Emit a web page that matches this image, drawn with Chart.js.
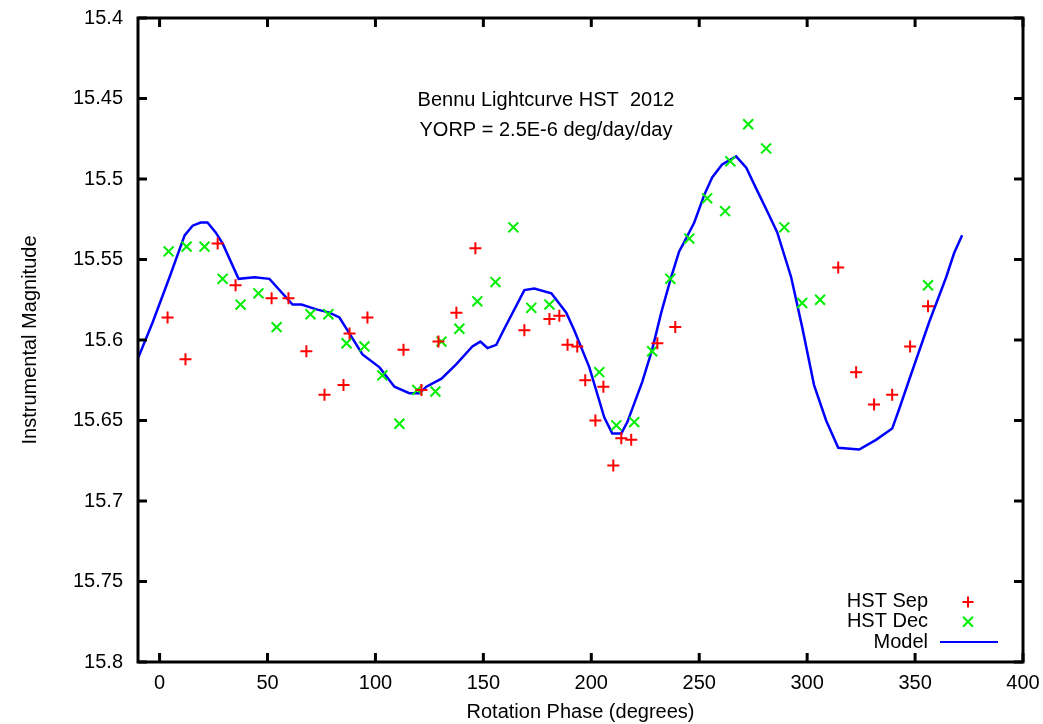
<!DOCTYPE html>
<html>
<head>
<meta charset="utf-8">
<script src="https://cdn.jsdelivr.net/npm/chart.js@4"></script>
<style>
  html, body { margin: 0; padding: 0; background: #fff; }
  #wrap { width: 1043px; height: 724px; }
</style>
</head>
<body>
<div id="wrap"><canvas id="lc"></canvas></div>
<script>
// HST Sep observations (phase deg, magnitude)
const sepPhase = [3.7, 12, 26.9, 35.2, 51.9, 59.7, 68, 76.4, 85.2, 88, 96.3, 113, 121.3, 129.2, 137.5, 146.3,
  169, 180.6, 185.2, 189, 193.5, 197.2, 201.9, 205.6, 210.2, 213.9, 218.5, 230.6, 238.9, 314.4, 322.7, 331, 339.4, 347.7, 356];
const sepMag = [15.586, 15.612, 15.540, 15.566, 15.574, 15.574, 15.607, 15.634, 15.628, 15.596, 15.586, 15.606, 15.631, 15.601, 15.583, 15.543,
  15.594, 15.587, 15.585, 15.603, 15.604, 15.625, 15.650, 15.629, 15.678, 15.661, 15.662, 15.602, 15.592, 15.555, 15.620, 15.640, 15.634, 15.604, 15.579];

// HST Dec observations
const decPhase = [4.2, 12.5, 20.8, 29.2, 37.5, 45.8, 54.2, 69.9, 78.2, 86.6, 94.9, 103.2, 111.1, 119.4, 127.8, 130.6, 138.9, 147.2, 155.6,
  163.9, 172.2, 180.6, 203.7, 211.6, 219.9, 228.2, 236.6, 245.4, 253.7, 262, 264.4, 272.7, 281, 289.4, 297.7, 306, 356];
const decMag = [15.545, 15.542, 15.542, 15.562, 15.578, 15.571, 15.592, 15.584, 15.584, 15.602, 15.604, 15.622, 15.652, 15.631, 15.632, 15.601, 15.593, 15.576, 15.564,
  15.530, 15.580, 15.578, 15.620, 15.653, 15.651, 15.607, 15.562, 15.537, 15.512, 15.520, 15.489, 15.466, 15.481, 15.530, 15.577, 15.575, 15.566];

// model lightcurve
const modelPhase = [-10.2, -3.2, 4.6, 11.6, 15.3, 19, 22.2, 25.9, 29.2, 36.6, 44, 50.9, 61.6, 65.7, 72.7, 78.7, 83.3, 88, 94, 101.9,
  108.8, 115.7, 120.4, 123.6, 130.6, 137.5, 144.9, 148.6, 151.9, 156, 159.7, 169, 173.6, 181.5, 188.4, 192.1, 199.1, 206, 209.7, 213.9,
  216.7, 223.6, 228.2, 232.4, 237, 240.7, 243.1, 247.7, 252.3, 256, 260.6, 267.1, 271.8, 276.4, 281.5, 286.1, 292.6, 297.7, 303.2, 308.8,
  314.4, 324.1, 331.9, 339.4, 342.6, 347.2, 356.5, 364.4, 368.1, 371.8];
const modelMag = [15.612, 15.589, 15.561, 15.535, 15.529, 15.527, 15.527, 15.533, 15.540, 15.562, 15.561, 15.562, 15.578, 15.578, 15.581, 15.583, 15.586, 15.596, 15.609, 15.617,
  15.629, 15.633, 15.633, 15.629, 15.624, 15.615, 15.604, 15.601, 15.605, 15.603, 15.593, 15.569, 15.568, 15.571, 15.583, 15.594, 15.617, 15.648, 15.658, 15.658,
  15.651, 15.626, 15.606, 15.583, 15.561, 15.545, 15.539, 15.527, 15.510, 15.499, 15.491, 15.486, 15.493, 15.506, 15.520, 15.533, 15.561, 15.592, 15.628, 15.650,
  15.667, 15.668, 15.662, 15.655, 15.643, 15.625, 15.589, 15.561, 15.546, 15.535];

const xTicks = [0, 50, 100, 150, 200, 250, 300, 350, 400];
const titleLines = ["Bennu Lightcurve HST  2012", "YORP = 2.5E-6 deg/day/day"];

const FONT = "'Liberation Sans', Arial, Helvetica, sans-serif";

function pts(xs, ys) {
  return xs.map((x, i) => ({ x: x, y: ys[i] }));
}

// frame, inward ticks, in-plot text and key, gnuplot style
const framePlugin = {
  id: "frame",
  afterDraw(chart) {
    const c = chart.ctx;
    const a = chart.chartArea;
    const xs = chart.scales.x, ys = chart.scales.y;
    c.save();
    c.strokeStyle = "#000";
    c.lineWidth = 3;
    c.strokeRect(a.left, a.top, a.right - a.left, a.bottom - a.top);
    c.beginPath();
    xTicks.forEach(v => {
      const px = xs.getPixelForValue(v);
      c.moveTo(px, a.bottom); c.lineTo(px, a.bottom - 9);
      c.moveTo(px, a.top); c.lineTo(px, a.top + 9);
    });
    ys.ticks.forEach(t => {
      const py = ys.getPixelForValue(t.value);
      c.moveTo(a.left, py); c.lineTo(a.left + 9, py);
      c.moveTo(a.right, py); c.lineTo(a.right - 9, py);
    });
    c.stroke();

    c.fillStyle = "#000";
    c.font = "20px " + FONT;
    c.textAlign = "center";
    c.textBaseline = "middle";
    const tx = xs.getPixelForValue(179);
    c.fillText(titleLines[0], tx, ys.getPixelForValue(15.4512));
    c.fillText(titleLines[1], tx, ys.getPixelForValue(15.4698));

    // key
    const names = chart.data.datasets.map(d => d.label);
    const rowY = [15.7627, 15.775, 15.7876].map(v => ys.getPixelForValue(v));
    const textR = a.right - 95, symX = a.right - 55;
    c.textAlign = "right";
    names.forEach((n, i) => c.fillText(n, textR, rowY[i]));
    c.lineWidth = 2;
    c.strokeStyle = "#ff0000";
    c.beginPath();
    c.moveTo(symX - 5.5, rowY[0]); c.lineTo(symX + 5.5, rowY[0]);
    c.moveTo(symX, rowY[0] - 5.5); c.lineTo(symX, rowY[0] + 5.5);
    c.stroke();
    c.strokeStyle = "#00ee00";
    c.beginPath();
    c.moveTo(symX - 5, rowY[1] - 5); c.lineTo(symX + 5, rowY[1] + 5);
    c.moveTo(symX + 5, rowY[1] - 5); c.lineTo(symX - 5, rowY[1] + 5);
    c.stroke();
    c.strokeStyle = "#0000ff";
    c.beginPath();
    c.moveTo(symX - 28, rowY[2]); c.lineTo(symX + 30, rowY[2]);
    c.stroke();
    c.restore();
  }
};

new Chart(document.getElementById("lc"), {
  type: "scatter",
  data: {
    datasets: [
      {
        label: "HST Sep",
        data: pts(sepPhase, sepMag),
        pointStyle: "cross",
        pointRadius: 6,
        borderWidth: 2,
        borderColor: "#ff0000",
        backgroundColor: "#ff0000",
      },
      {
        label: "HST Dec",
        data: pts(decPhase, decMag),
        pointStyle: "crossRot",
        pointRadius: 7,
        borderWidth: 2,
        borderColor: "#00ee00",
        backgroundColor: "#00ee00",
      },
      {
        label: "Model",
        type: "line",
        data: pts(modelPhase, modelMag),
        showLine: true,
        pointRadius: 0,
        borderWidth: 2.5,
        borderColor: "#0000ff",
        tension: 0,
        fill: false,
      },
    ],
  },
  options: {
    responsive: true,
    maintainAspectRatio: false,
    animation: false,
    layout: { padding: { top: 18, right: 20, left: 0, bottom: 0 } },
    plugins: {
      legend: { display: false },
      tooltip: { enabled: false },
    },
    scales: {
      x: {
        type: "linear",
        min: -10,
        max: 400,
        grid: { display: false, drawTicks: false },
        border: { display: false },
        afterBuildTicks: s => { s.ticks = xTicks.map(v => ({ value: v })); },
        afterFit: s => {
          s.height = 62;
          s.paddingLeft = 0; s.paddingRight = 0;
        },
        ticks: {
          color: "#000",
          padding: 9,
          font: { family: FONT, size: 20 },
          maxRotation: 0,
        },
        title: {
          display: true,
          text: "Rotation Phase (degrees)",
          color: "#000",
          font: { family: FONT, size: 20 },
          padding: { top: 2, bottom: 0 },
        },
      },
      y: {
        min: 15.4,
        max: 15.8,
        reverse: true,
        grid: { display: false, drawTicks: false },
        border: { display: false },
        afterFit: s => {
          s.width = 138;
          s.paddingTop = 0; s.paddingBottom = 0;
        },
        ticks: {
          stepSize: 0.05,
          color: "#000",
          padding: 15,
          font: { family: FONT, size: 20 },
          callback: v => String(+v.toFixed(2)),
        },
        title: {
          display: true,
          text: "Instrumental Magnitude",
          color: "#000",
          font: { family: FONT, size: 20 },
          padding: { top: 18, bottom: 0 },
        },
      },
    },
  },
  plugins: [framePlugin],
});
</script>
</body>
</html>
